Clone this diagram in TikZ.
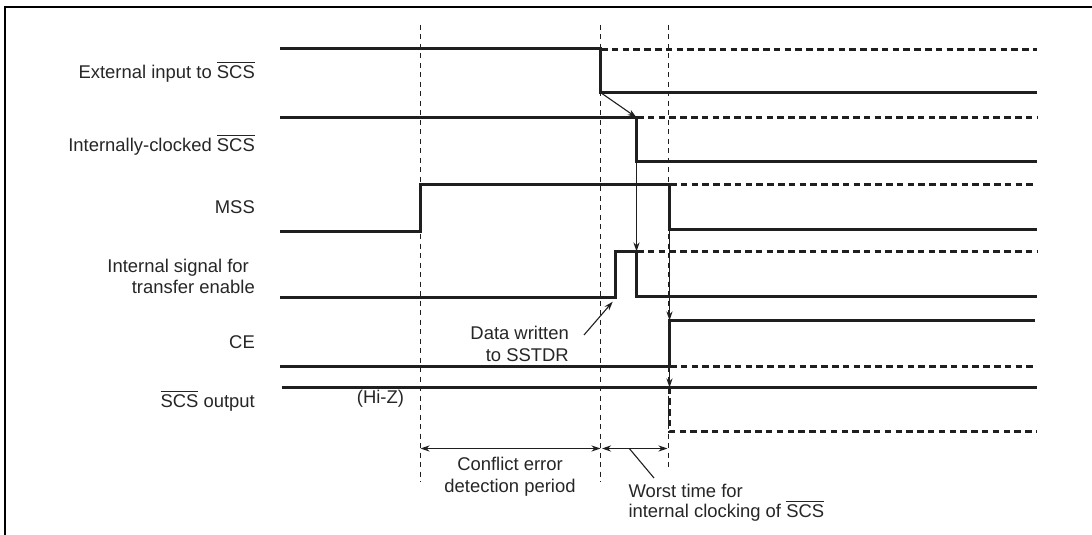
\documentclass[tikz,border=0pt]{standalone}
\usepackage{fontspec}
\setmainfont{Liberation Sans}
\usetikzlibrary{arrows.meta}
\newcommand\ovl[1]{\setbox0\hbox{#1}\rlap{\raisebox{\dimexpr\ht0+2.6pt\relax}{\rule{\wd0}{0.9pt}}}\box0\relax}
\begin{document}
\begin{tikzpicture}[x=1bp,y=-1bp,
  sig/.style={line width=3bp, line join=miter, draw=black!88},
  sigdash/.style={line width=3bp, draw=black!88, dash pattern=on 6.5bp off 4.3bp},
  gridline/.style={line width=1.1bp, draw=black!88, dash pattern=on 5bp off 4.5bp},
  thinarr/.style={line width=1.1bp, draw=black!88, -{Stealth[length=9bp,width=6bp]}},
  dimarr/.style={line width=1.1bp, draw=black!88, {Stealth[length=9bp,width=6bp]}-{Stealth[length=9bp,width=6bp]}},
  lbl/.style={font=\fontsize{18.5}{22}\selectfont, text=black!85, inner sep=0pt},
]
\useasboundingbox (0,0) rectangle (1092,535);
\draw[line width=2bp] (5,540) -- (5,7) -- (1097,7);

% vertical guide lines
\coordinate (g1t) at (420.5,25);  \coordinate (g1b) at (420.5,482);
\coordinate (g2t) at (600.5,25);  \coordinate (g2b) at (600.5,482);
\coordinate (g3t) at (668.5,25);  \coordinate (g3b) at (668.5,470);
\draw[gridline] (g1t) -- (g1b);
\draw[gridline] (g2t) -- (g2b);
\draw[gridline] (g3t) -- (g3b);

% External input to SCS
\coordinate (e1) at (600.5,92.5);
\draw[sig] (280,48.5) -- (600.5,48.5) -- (e1) -- (1037,92.5);
\draw[sigdash] (601,49.5) -- (1037,49.5);
% Internally-clocked SCS
\coordinate (i1) at (636.5,117.5);
\coordinate (i2) at (636.5,161.5);
\draw[sig] (280,117.5) -- (i1) -- (i2) -- (1037,161.5);
\draw[sigdash] (637,117.5) -- (1037,117.5);
% MSS
\coordinate (m1) at (669.5,229.5);
\draw[sig] (280,231.5) -- (420.5,231.5) -- (420.5,184.5) -- (669.5,184.5) -- (m1) -- (1037,229.5);
\draw[sigdash] (670,184.5) -- (1037,184.5);
% transfer enable
\coordinate (t0) at (615.5,297.5);
\coordinate (t1) at (636.5,251.5);
\draw[sig] (280,297.5) -- (t0) -- (615.5,251.5) -- (t1) -- (636.5,296.5) -- (1037,296.5);
\draw[sigdash] (637,251.5) -- (1037,251.5);
% CE
\coordinate (c1) at (669.5,320.5);
\coordinate (c0) at (669.5,366.5);
\draw[sig] (280,366.5) -- (c0) -- (c1) -- (1035,320.5);
\draw[sigdash] (670,366.5) -- (1037,366.5);
% SCS output
\coordinate (s1) at (669.5,387.5);
\draw[sig] (281.5,387.5) -- (1037,387.5);
\draw[sigdash] (s1) -- (669.5,431.5) -- (1037,431.5);

% causal arrows
\draw[thinarr] (e1) -- (i1);
\draw[thinarr] (i2) -- (t1);
\draw[thinarr] (m1) -- (c1);
\draw[thinarr] (c0) -- (s1);

% labels
\node[lbl, anchor=base east] (l1) at (255,78.3) {External input to \ovl{SCS}};
\node[lbl, anchor=base east] (l2) at (255,151.7) {Internally-clocked \ovl{SCS}};
\node[lbl, anchor=base east] (l3) at (255,214) {MSS};
\node[lbl, anchor=base east] (l4a) at (249,272.3) {Internal signal for};
\node[lbl, anchor=base east] (l4b) at (255,294) {transfer enable};
\node[lbl, anchor=base east] (l5) at (255,349) {CE};
\node[lbl, anchor=base east] (l6) at (255,407.7) {\ovl{SCS} output};
\node[lbl, anchor=base west] (hiz) at (356.7,403) {(Hi-Z)};

% data written
\node[lbl, anchor=base east] (dw1) at (569,339.3) {Data written};
\node[lbl, anchor=base east] (dw2) at (569,361.7) {to SSTDR};
\coordinate (dwa) at (584,335);
\coordinate (dwb) at (612.7,301.7);
\draw[thinarr] (dwa) -- (dwb);

% dimension arrows
\coordinate (d1) at (420.5,448.5);
\coordinate (d2) at (600.5,448.5);
\coordinate (d3) at (602,448.5);
\coordinate (d4) at (667.5,448.5);
\draw[dimarr] (d1) -- (d2);
\draw[dimarr] (d3) -- (d4);
\coordinate (ldA) at (629.3,448.5);
\coordinate (ldB) at (654,478);
\draw[line width=1.1bp, draw=black!88] (ldA) -- (ldB);

\node[lbl, anchor=base] (ce1) at (510,470) {Conflict error};
\node[lbl, anchor=base] (ce2) at (510,492.3) {detection period};
\node[lbl, anchor=base west] (wt1) at (628.3,497.3) {Worst time for};
\node[lbl, anchor=base west] (wt2) at (628.3,517.3) {internal clocking of \ovl{SCS}};
\end{tikzpicture}
\end{document}
